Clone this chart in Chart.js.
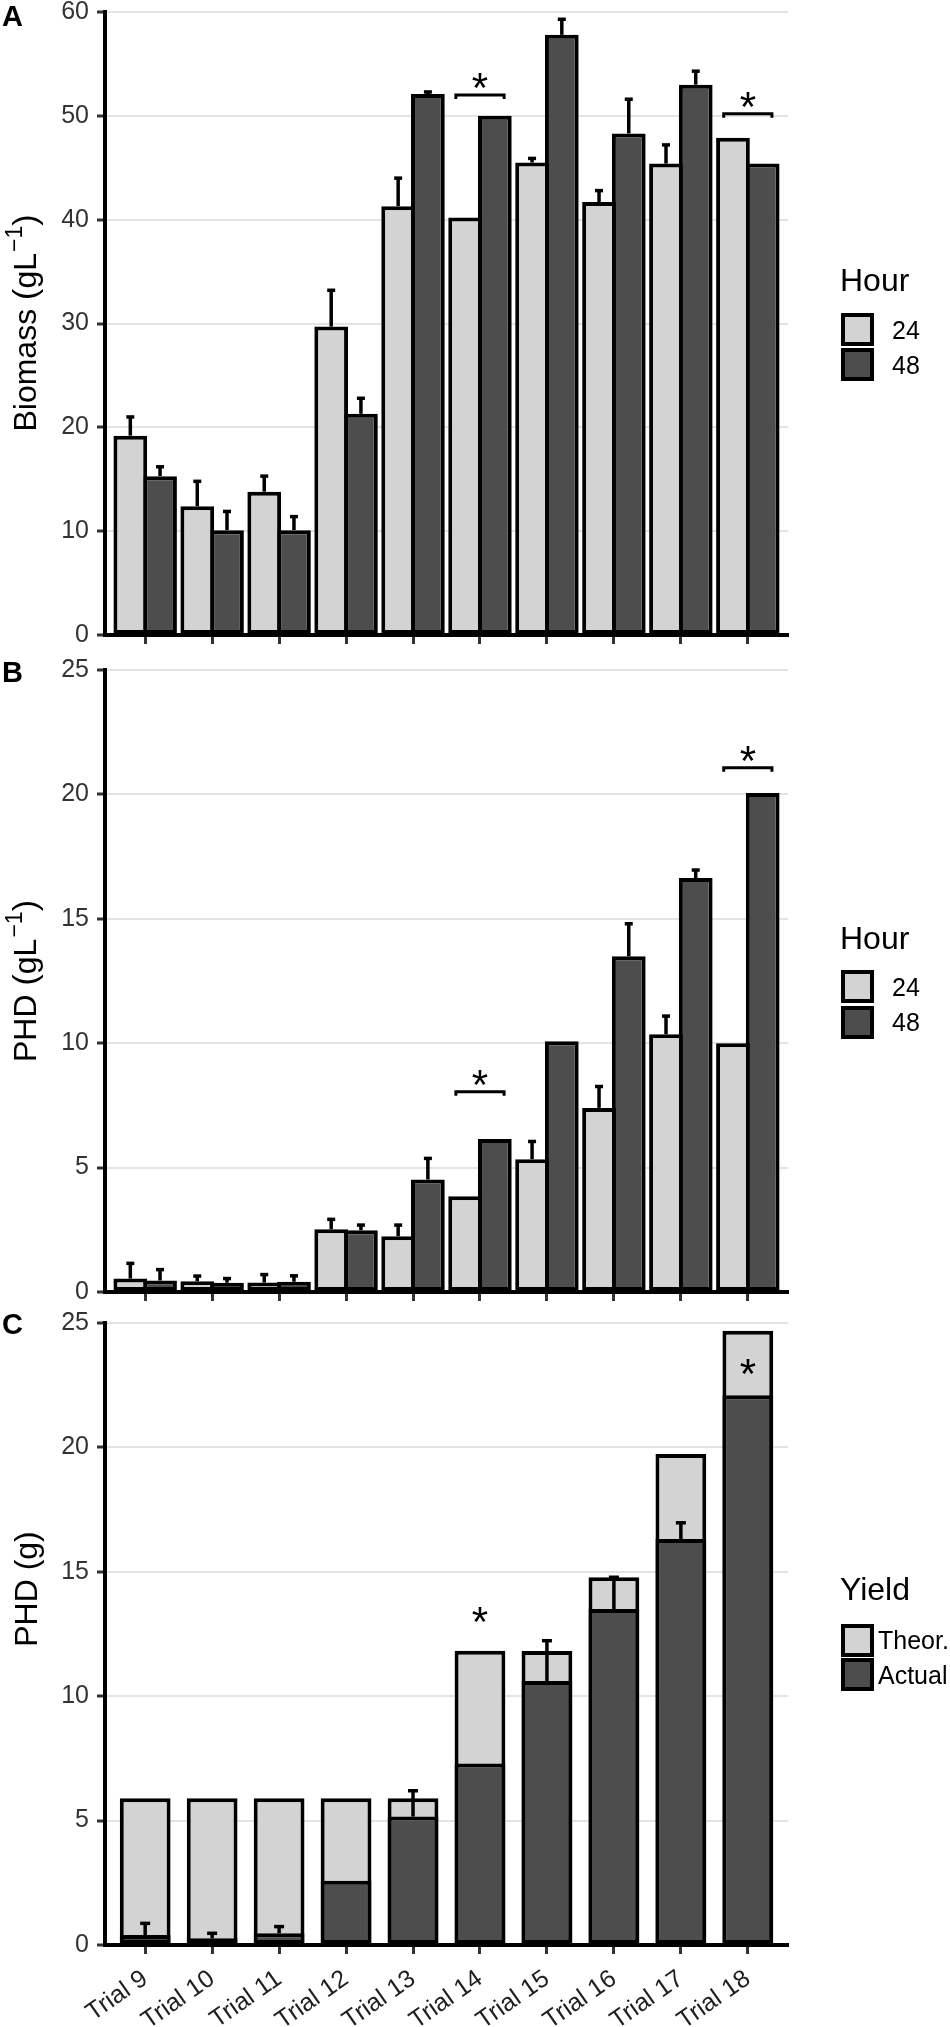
<!DOCTYPE html>
<html>
<head>
<meta charset="utf-8">
<script src="https://cdn.jsdelivr.net/npm/chart.js@4.4.1/dist/chart.umd.min.js"></script>
<style>
html,body{margin:0;padding:0;background:#fff;}
#wrap{position:relative;width:950px;height:2027px;overflow:hidden;font-family:'Liberation Sans',Arial,Helvetica,sans-serif;}
canvas{position:absolute;left:0;}
.t{position:absolute;white-space:nowrap;line-height:1;color:#000;}
.ytitle{font-size:32px;transform:translate(-50%,-50%) rotate(-90deg);}
.sup{font-size:23px;position:relative;top:-14px;line-height:0;margin-left:1px;}
.paren{font-size:34px;line-height:0;}
.ltitle{font-size:32px;left:840px;}
.llab{font-size:25px;}
.key{position:absolute;box-sizing:border-box;width:33px;height:33px;border:4px solid #000;left:841px;}
.light{background:#D3D3D3;}
.dark{background:#4D4D4D;}
.plab{font-size:29px;font-weight:bold;left:2px;}
</style>
</head>
<body>
<div id="wrap">
  <canvas id="cA" width="950" height="660" style="top:0px"></canvas>
  <canvas id="cB" width="950" height="660" style="top:650px"></canvas>
  <canvas id="cC" width="950" height="727" style="top:1300px"></canvas>

  <div class="t plab" style="top:2px">A</div>
  <div class="t plab" style="top:658px">B</div>
  <div class="t plab" style="top:1310px">C</div>

  <div class="t ytitle" style="left:25px;top:323px">Biomass <span class="paren">(</span>gL<span class="sup">−1</span><span class="paren">)</span></div>
  <div class="t ytitle" style="left:25px;top:981px">PHD <span class="paren">(</span>gL<span class="sup">−1</span><span class="paren">)</span></div>
  <div class="t ytitle" style="left:26px;top:1589px">PHD (g)</div>

  <div class="t ltitle" style="top:264px">Hour</div>
  <div class="key light" style="top:313px"></div>
  <div class="key dark" style="top:348px"></div>
  <div class="t llab" style="left:892px;top:318px">24</div>
  <div class="t llab" style="left:892px;top:353px">48</div>

  <div class="t ltitle" style="top:922px">Hour</div>
  <div class="key light" style="top:970px"></div>
  <div class="key dark" style="top:1006px"></div>
  <div class="t llab" style="left:892px;top:975px">24</div>
  <div class="t llab" style="left:892px;top:1010px">48</div>

  <div class="t ltitle" style="top:1573px">Yield</div>
  <div class="key light" style="top:1624px"></div>
  <div class="key dark" style="top:1658px"></div>
  <div class="t llab" style="left:878px;top:1628px">Theor.</div>
  <div class="t llab" style="left:878px;top:1663px">Actual</div>
</div>
<script>
// ---------- data ----------
const trials = ['Trial 9','Trial 10','Trial 11','Trial 12','Trial 13','Trial 14','Trial 15','Trial 16','Trial 17','Trial 18'];

const biomass24   = [19.2, 12.4, 13.8, 29.7, 41.3, 40.2, 45.5, 41.7, 45.4, 47.9];
const biomass48   = [15.3, 10.1, 10.1, 21.3, 52.1, 50.0, 57.8, 48.3, 53.0, 45.4];
const biomass24Sd = [1.8, 2.4, 1.5, 3.5, 2.7, 0, 0.4, 1.1, 1.8, 0];
const biomass48Sd = [0.9, 1.8, 1.3, 1.5, 0.2, 0, 1.5, 3.3, 1.3, 0];

const phd24   = [0.54, 0.43, 0.38, 2.52, 2.24, 3.85, 5.34, 7.40, 10.36, 10.0];
const phd48   = [0.46, 0.37, 0.41, 2.48, 4.52, 6.15, 10.08, 13.49, 16.64, 20.06];
const phd24Sd = [0.61, 0.21, 0.32, 0.40, 0.45, 0, 0.71, 0.86, 0.73, 0];
const phd48Sd = [0.44, 0.17, 0.24, 0.21, 0.85, 0, 0, 1.31, 0.32, 0];

const yieldTheor    = [5.9, 5.9, 5.9, 5.9, 5.9, 11.83, 11.82, 14.78, 19.73, 24.69];
const yieldActual   = [0.40, 0.27, 0.47, 2.58, 5.16, 7.30, 10.61, 13.50, 16.32, 22.1];
const yieldActualSd = [0.47, 0.20, 0.27, 0, 1.04, 0, 1.62, 1.28, 0.65, 0];

// significance marks: trial index + value of the bracket / star
const sigBiomass = [{i: 5, y: 52.0}, {i: 9, y: 50.2}];
const sigPhd     = [{i: 5, y: 8.05}, {i: 9, y: 21.07}];
const starYield  = [{i: 5, y: 13.26}, {i: 9, y: 23.23}];

const biomassTicks = [0, 10, 20, 30, 40, 50, 60];
const phdTicks     = [0, 5, 10, 15, 20, 25];

// ---------- styling ----------
const LIGHT = '#D3D3D3', DARK = '#4D4D4D';
Chart.defaults.font.family = "'Liberation Sans', Arial, Helvetica, sans-serif";

const toXY = arr => arr.map((v, i) => ({x: i, y: v}));

const annotPlugin = {
  id: 'annot',
  afterDatasetsDraw(chart, args, o) {
    const ctx = chart.ctx, xs = chart.scales.x, ys = chart.scales.y;
    ctx.save();
    ctx.strokeStyle = '#000';
    ctx.fillStyle = '#000';
    ctx.lineCap = 'butt';
    (o.errors || []).forEach(e => {
      const meta = chart.getDatasetMeta(e.dataset);
      const vals = chart.data.datasets[e.dataset].data;
      meta.data.forEach((el, j) => {
        const sd = e.sd[j];
        if (!sd) return;
        const yt = ys.getPixelForValue(vals[j].y + sd);
        ctx.lineWidth = 3.5;
        ctx.beginPath(); ctx.moveTo(el.x, el.y); ctx.lineTo(el.x, yt); ctx.stroke();
        ctx.beginPath(); ctx.moveTo(el.x - e.cap / 2, yt); ctx.lineTo(el.x + e.cap / 2, yt); ctx.stroke();
      });
    });
    const star = (cx, cy) => {
      ctx.font = "42px 'Liberation Sans', Arial, sans-serif";
      ctx.textAlign = 'center';
      ctx.textBaseline = 'alphabetic';
      const m = ctx.measureText('*');
      const base = cy + (m.actualBoundingBoxAscent - m.actualBoundingBoxDescent) / 2;
      ctx.fillText('*', cx, base);
    };
    (o.brackets || []).forEach(b => {
      const xl = xs.getPixelForValue(b.i - 0.36), xr = xs.getPixelForValue(b.i + 0.36);
      const y = ys.getPixelForValue(b.y);
      ctx.lineWidth = 3;
      ctx.beginPath();
      ctx.moveTo(xl, y + 4); ctx.lineTo(xl, y); ctx.lineTo(xr, y); ctx.lineTo(xr, y + 4);
      ctx.stroke();
      star(xs.getPixelForValue(b.i), y - 14);
    });
    (o.stars || []).forEach(s => {
      star(xs.getPixelForValue(s.i), ys.getPixelForValue(s.y));
    });
    ctx.restore();
  }
};

function makeChart(id, datasets, yTicks, showX, padTop, xHeight, annot) {
  const yMax = yTicks[yTicks.length - 1];
  return new Chart(document.getElementById(id), {
    type: 'bar',
    data: {datasets},
    plugins: [annotPlugin],
    options: {
      responsive: false,
      animation: false,
      layout: {padding: {left: 0, right: 162, top: padTop, bottom: 0}},
      plugins: {legend: {display: false}, tooltip: {enabled: false}, annot},
      scales: {
        x: {
          type: 'linear', min: -0.6, max: 9.6, offset: false,
          afterBuildTicks: s => { s.ticks = trials.map((t, i) => ({value: i})); },
          afterFit: s => { s.height = xHeight; s.paddingLeft = 0; s.paddingRight = 0; },
          grid: {display: true, offset: false, drawOnChartArea: false, drawTicks: true,
                 tickLength: 9, tickWidth: 3, tickColor: '#333'},
          border: {display: true, color: '#000', width: 4},
          ticks: {display: showX, autoSkip: false, minRotation: 35, maxRotation: 35, padding: 10,
                  color: '#1f1f1f', font: {size: 25},
                  callback: v => trials[v] !== undefined ? trials[v] : ''}
        },
        y: {
          min: 0, max: yMax,
          afterBuildTicks: s => { s.ticks = yTicks.map(v => ({value: v})); },
          afterFit: s => { s.width = 105; s.paddingTop = 0; s.paddingBottom = 0; },
          grid: {color: '#E3E3E3', lineWidth: 2, drawTicks: true, tickLength: 8, tickWidth: 3, tickColor: '#333'},
          border: {display: true, color: '#000', width: 4},
          ticks: {padding: 8, color: '#333', font: {size: 25}}
        }
      }
    }
  });
}

const groupedBar = (label, data, color) => ({
  label, data: toXY(data), backgroundColor: color, borderColor: '#000', borderWidth: 4,
  borderSkipped: false, categoryPercentage: 0.888, barPercentage: 1.135
});

makeChart('cA',
  [groupedBar('24', biomass24, LIGHT), groupedBar('48', biomass48, DARK)],
  biomassTicks, false, 12, 25,
  {errors: [{dataset: 0, sd: biomass24Sd, cap: 8}, {dataset: 1, sd: biomass48Sd, cap: 8}],
   brackets: sigBiomass});

makeChart('cB',
  [groupedBar('24', phd24, LIGHT), groupedBar('48', phd48, DARK)],
  phdTicks, false, 20, 18,
  {errors: [{dataset: 0, sd: phd24Sd, cap: 8}, {dataset: 1, sd: phd48Sd, cap: 8}],
   brackets: sigPhd});

makeChart('cC',
  [
    {label: 'Theor.', data: toXY(yieldTheor), backgroundColor: LIGHT, borderColor: '#000', borderWidth: 4,
     borderSkipped: false, grouped: false, barPercentage: 0.948, order: 2},
    {label: 'Actual', data: toXY(yieldActual), backgroundColor: DARK, borderColor: '#000', borderWidth: 4,
     borderSkipped: false, grouped: false, barPercentage: 0.948, order: 1}
  ],
  phdTicks, true, 23, 82,
  {errors: [{dataset: 1, sd: yieldActualSd, cap: 10}], stars: starYield});
</script>
</body>
</html>
